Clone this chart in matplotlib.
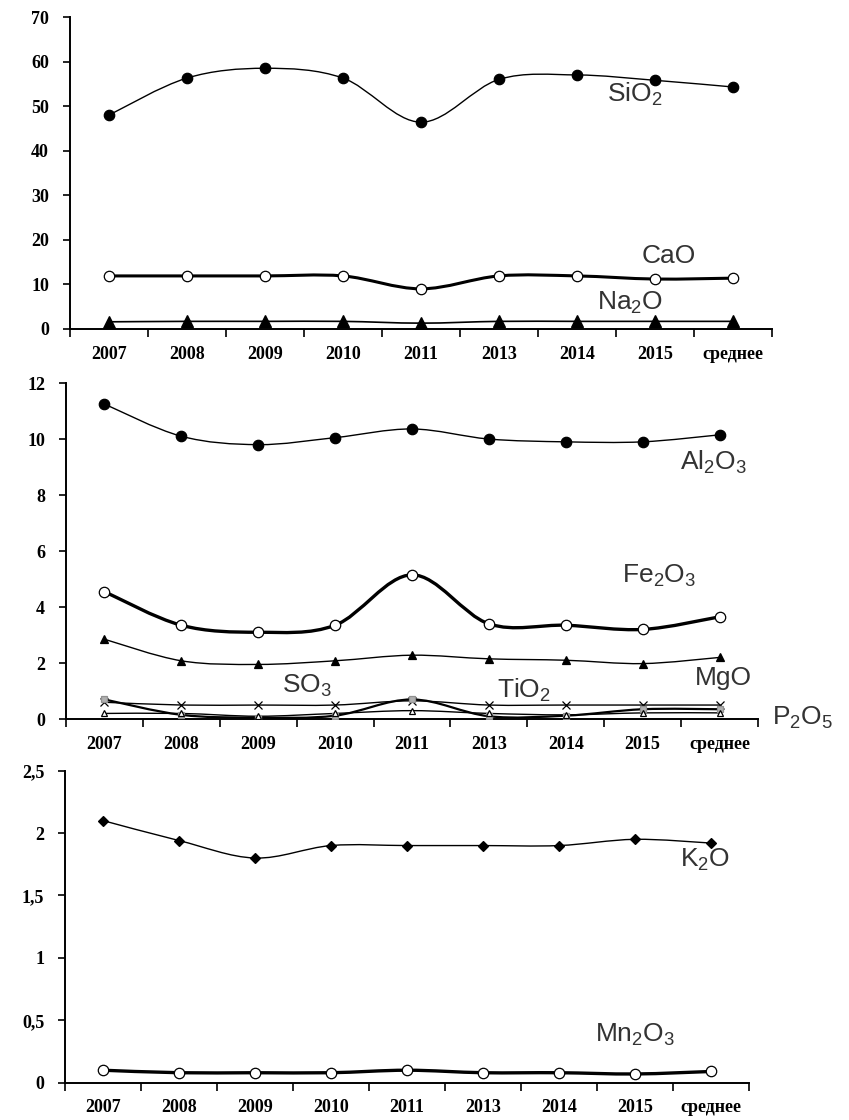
import numpy as np
import matplotlib
matplotlib.use("Agg")
import matplotlib.pyplot as plt
from matplotlib.path import Path
from matplotlib.patches import PathPatch

plt.rcParams['font.family'] = ['Liberation Sans', 'DejaVu Sans']
plt.rcParams['mathtext.fontset'] = 'custom'
plt.rcParams['mathtext.rm'] = 'Liberation Sans'
plt.rcParams['mathtext.it'] = 'Liberation Sans'
plt.rcParams['mathtext.bf'] = 'Liberation Sans:bold'

# ── данные ────────────────────────────────────────────────────────────────────
CATEGORIES = ['2007', '2008', '2009', '2010', '2011', '2013', '2014', '2015', 'среднее']

SIO2 = [48.0, 56.3, 58.5, 56.3, 46.4, 56.0, 57.0, 55.8, 54.3]
CAO = [11.9, 11.9, 11.9, 11.9, 9.0, 11.9, 11.9, 11.2, 11.4]
NA2O = [1.6, 1.7, 1.7, 1.7, 1.3, 1.7, 1.7, 1.7, 1.7]

AL2O3 = [11.25, 10.1, 9.8, 10.05, 10.36, 10.0, 9.9, 9.9, 10.15]
FE2O3 = [4.55, 3.35, 3.1, 3.35, 5.15, 3.4, 3.35, 3.2, 3.65]
MGO = [2.85, 2.08, 1.95, 2.08, 2.28, 2.15, 2.1, 1.98, 2.2]
SO3 = [0.6, 0.5, 0.5, 0.5, 0.65, 0.5, 0.5, 0.5, 0.5]
TIO2 = [0.7, 0.15, 0.05, 0.12, 0.7, 0.1, 0.12, 0.35, 0.35]
P2O5 = [0.2, 0.2, 0.1, 0.2, 0.3, 0.2, 0.15, 0.22, 0.22]

K2O = [2.1, 1.94, 1.8, 1.9, 1.9, 1.9, 1.9, 1.95, 1.92]
MN2O3 = [0.1, 0.08, 0.08, 0.08, 0.1, 0.08, 0.08, 0.07, 0.09]

TICKS_TOP = [0, 10, 20, 30, 40, 50, 60, 70]
TICKS_MID = [0, 2, 4, 6, 8, 10, 12]
TICKS_BOT = [0, 0.5, 1, 1.5, 2, 2.5]
TICKLAB_BOT = ['0', '0,5', '1', '1,5', '2', '2,5']

TXT = '#333333'
SERIF_B = dict(family='Liberation Serif', weight='bold', size=13)


def _smooth(y):
    """Сглаженная линия (как в Excel): кривые Безье через точки."""
    pts = np.column_stack([np.arange(len(y)), np.asarray(y, float)])
    ext = np.vstack([pts[0], pts, pts[-1]])
    verts, codes = [pts[0]], [Path.MOVETO]
    for i in range(len(pts) - 1):
        p0, p1, p2, p3 = ext[i], ext[i + 1], ext[i + 2], ext[i + 3]
        verts += [p1 + (p2 - p0) / 6, p2 - (p3 - p1) / 6, p2]
        codes += [Path.CURVE4] * 3
    return Path(verts, codes)


def _serie(ax, y, lw, marker, ms, fc, ec='black'):
    ax.add_patch(PathPatch(_smooth(y), fill=False, lw=lw, ec='black',
                           capstyle='round', joinstyle='round', zorder=2))
    ax.plot(range(len(y)), y, ls='none', marker=marker, ms=ms, mfc=fc,
            mec=ec, mew=0.9, zorder=3)


def _eixos(ax, ticks, ylim, ticklabels=None):
    ax.set_xlim(-0.5, len(CATEGORIES) - 0.5)
    ax.set_ylim(*ylim)
    for s in ('top', 'right'):
        ax.spines[s].set_visible(False)
    for s in ('left', 'bottom'):
        ax.spines[s].set_linewidth(1.4)
    ax.set_xticks(np.arange(-0.5, len(CATEGORIES)))
    ax.set_xticklabels([])
    ax.set_xticks(np.arange(len(CATEGORIES)), minor=True)
    ax.set_xticklabels(CATEGORIES, minor=True, **SERIF_B)
    ax.tick_params(axis='x', which='major', direction='out', length=6, width=1.2)
    ax.tick_params(axis='x', which='minor', length=0, pad=12)
    ax.set_yticks(ticks)
    ax.set_yticklabels(ticklabels if ticklabels else [str(t) for t in ticks], **SERIF_B)
    ax.tick_params(axis='y', direction='out', length=5, width=1.2, pad=10)
    ax.patch.set_alpha(0)


def _rotulo(ax, x, y, s):
    ax.text(x, y, s, fontsize=19, color=TXT, ha='left', va='baseline',
            clip_on=False, zorder=4)


fig = plt.figure(figsize=(8.49, 11.2), dpi=100)

# ── painel superior ──────────────────────────────────────────────────────────
ax1 = fig.add_axes([0.0824, 0.7063, 0.8268, 0.2785])
_eixos(ax1, TICKS_TOP, (0, 70))
_serie(ax1, SIO2, 1.0, 'o', 7.5, 'black')
_serie(ax1, CAO, 2.2, 'o', 7.5, 'white')
_serie(ax1, NA2O, 1.2, '^', 8, 'black')
_rotulo(ax1, 6.38, 50.9, r'SiO$_2$')
_rotulo(ax1, 6.83, 14.8, 'CaO')
_rotulo(ax1, 6.26, 4.3, r'Na$_2$O')

# ── painel do meio ───────────────────────────────────────────────────────────
ax2 = fig.add_axes([0.0777, 0.358, 0.8151, 0.300])
_eixos(ax2, TICKS_MID, (0, 12))
_serie(ax2, AL2O3, 1.0, 'o', 7.5, 'black')
_serie(ax2, FE2O3, 2.4, 'o', 7.5, 'white')
_serie(ax2, MGO, 1.0, '^', 5.5, 'black')
_serie(ax2, SO3, 1.0, 'x', 6, 'black')
_serie(ax2, TIO2, 1.6, 's', 4.5, '#b0b0b0', ec='#909090')
_serie(ax2, P2O5, 1.0, '^', 4.5, 'white')
_rotulo(ax2, 6.73, 4.86, r'Fe$_2$O$_3$')
_rotulo(ax2, 7.48, 8.9, r'Al$_2$O$_3$')
_rotulo(ax2, 2.31, 0.93, r'SO$_3$')
_rotulo(ax2, 5.10, 0.75, r'TiO$_2$')
_rotulo(ax2, 7.68, 1.21, 'MgO')
_rotulo(ax2, 8.68, -0.2, r'P$_2$O$_5$')

# ── painel inferior ──────────────────────────────────────────────────────────
ax3 = fig.add_axes([0.0766, 0.0333, 0.8056, 0.2786])
_eixos(ax3, TICKS_BOT, (0, 2.5), TICKLAB_BOT)
_serie(ax3, K2O, 1.0, 'D', 5, 'black')
_serie(ax3, MN2O3, 2.4, 'o', 7.5, 'white')
_rotulo(ax3, 7.59, 1.73, r'K$_2$O')
_rotulo(ax3, 6.47, 0.33, r'Mn$_2$O$_3$')

fig.savefig('out.png', dpi=100, facecolor='white')
